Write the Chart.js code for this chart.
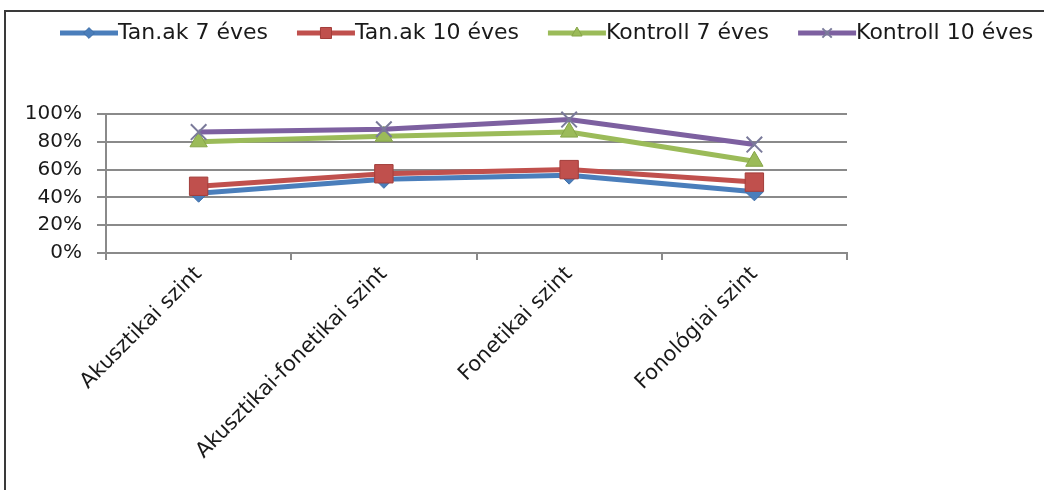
<!DOCTYPE html>
<html><head><meta charset="utf-8">
<script src="https://cdn.jsdelivr.net/npm/chart.js@4.4.1/dist/chart.umd.min.js"></script>
<style>
html,body{margin:0;padding:0;background:#fff;overflow:hidden}
#wrap{position:relative;width:1044px;height:490px;overflow:hidden}
#frame{position:absolute;left:4px;top:10px;width:1100px;height:600px;border-left:2px solid #3a3a3a;border-top:2px solid #3a3a3a;pointer-events:none}
canvas{position:absolute;left:0;top:0}
</style></head><body>
<div id="wrap"><canvas id="c" width="1044" height="490"></canvas><div id="frame"></div></div>
<script>
const categories = ['Akusztikai szint', 'Akusztikai-fonetikai szint', 'Fonetikai szint', 'Fonológiai szint'];
const seriesNames = ['Tan.ak 7 éves', 'Tan.ak 10 éves', 'Kontroll 7 éves', 'Kontroll 10 éves'];
const tanak7 = [43, 53, 56, 44];
const tanak10 = [48, 57, 60, 51];
const kontroll7 = [80, 84, 87, 66];
const kontroll10 = [87, 89, 96, 78];
const yTickLabels = ['0%', '20%', '40%', '60%', '80%', '100%'];

const FONT = '"DejaVu Sans", "Liberation Sans", sans-serif';
const styles = [
  {color:'#4a7ebb', point:'rectRot', r:9, pb:'#3f6fa8', pw:1, order:3},
  {color:'#c0504d', point:'rect', r:13, pb:'#a33e3b', pw:1, order:2},
  {color:'#9bbb59', point:'triangle', r:10, pb:'#86a548', pw:1, order:1},
  {color:'#7d60a0', point:'crossRot', r:11, pb:'#7a7a9a', pw:2, order:0}
];
const values = [tanak7, tanak10, kontroll7, kontroll10];

function drawMarker(ctx, style, r, x, y, fill, stroke, lw) {
  ctx.save();
  ctx.fillStyle = fill; ctx.strokeStyle = stroke; ctx.lineWidth = lw;
  ctx.beginPath();
  if (style === 'rectRot') {
    ctx.moveTo(x, y - r); ctx.lineTo(x + r, y); ctx.lineTo(x, y + r); ctx.lineTo(x - r, y); ctx.closePath();
    ctx.fill(); ctx.stroke();
  } else if (style === 'rect') {
    const s = r * Math.SQRT1_2;
    ctx.rect(x - s, y - s, 2 * s, 2 * s); ctx.fill(); ctx.stroke();
  } else if (style === 'triangle') {
    ctx.moveTo(x, y - r); ctx.lineTo(x + r * 0.866, y + r * 0.5); ctx.lineTo(x - r * 0.866, y + r * 0.5); ctx.closePath();
    ctx.fill(); ctx.stroke();
  } else if (style === 'crossRot') {
    const s = r * Math.SQRT1_2;
    ctx.moveTo(x - s, y - s); ctx.lineTo(x + s, y + s); ctx.moveTo(x - s, y + s); ctx.lineTo(x + s, y - s);
    ctx.stroke();
  }
  ctx.restore();
}

const legendPlugin = {
  id: 'xlLegend',
  afterDraw(chart) {
    const ctx = chart.ctx;
    ctx.save();
    ctx.font = '22px ' + FONT;
    ctx.textBaseline = 'middle';
    ctx.textAlign = 'left';
    let x = 60; const y = 33;
    chart.data.datasets.forEach((ds, i) => {
      const st = styles[i];
      ctx.strokeStyle = st.color; ctx.lineWidth = 5; ctx.lineCap = 'butt';
      ctx.beginPath(); ctx.moveTo(x, y); ctx.lineTo(x + 58, y); ctx.stroke();
      drawMarker(ctx, st.point, st.r * 0.6, x + 29, y, st.color, st.pb, st.pw);
      ctx.fillStyle = '#1a1a1a';
      ctx.fillText(ds.label, x + 58, y);
      x += 58 + ctx.measureText(ds.label).width + 29;
    });
    ctx.restore();
  }
};

const datasets = seriesNames.map((name, i) => ({
  label: name,
  data: values[i],
  borderColor: styles[i].color,
  backgroundColor: styles[i].color,
  borderWidth: 5,
  pointStyle: styles[i].point,
  pointRadius: styles[i].r,
  pointBackgroundColor: styles[i].color,
  pointBorderColor: styles[i].pb,
  pointBorderWidth: styles[i].pw,
  tension: 0,
  order: styles[i].order,
  clip: false
}));

new Chart(document.getElementById('c'), {
  type: 'line',
  data: { labels: categories, datasets },
  options: {
    responsive: false,
    animation: false,
    devicePixelRatio: 1,
    layout: { padding: { top: 114, left: 0, right: 197, bottom: 0 } },
    plugins: { legend: { display: false }, tooltip: { enabled: false } },
    scales: {
      x: {
        offset: true,
        grid: { offset: true, drawOnChartArea: false, drawTicks: true, tickLength: 7, color: '#8a8a8a', lineWidth: 2 },
        border: { color: '#8a8a8a', width: 2 },
        ticks: { font: { family: FONT, size: 21 }, color: '#1a1a1a', minRotation: 45, maxRotation: 45, autoSkip: false, padding: 2 },
        afterFit(s) { s.height = 237; }
      },
      y: {
        min: 0, max: 100,
        ticks: { stepSize: 20, callback: v => yTickLabels[Math.round(v / 20)], font: { family: FONT, size: 20 }, color: '#1a1a1a', padding: 15 },
        grid: { color: '#8a8a8a', lineWidth: 2, tickLength: 9 },
        border: { color: '#8a8a8a', width: 2 },
        afterFit(s) { s.width = 106; }
      }
    }
  },
  plugins: [legendPlugin]
});
</script>
</body></html>
